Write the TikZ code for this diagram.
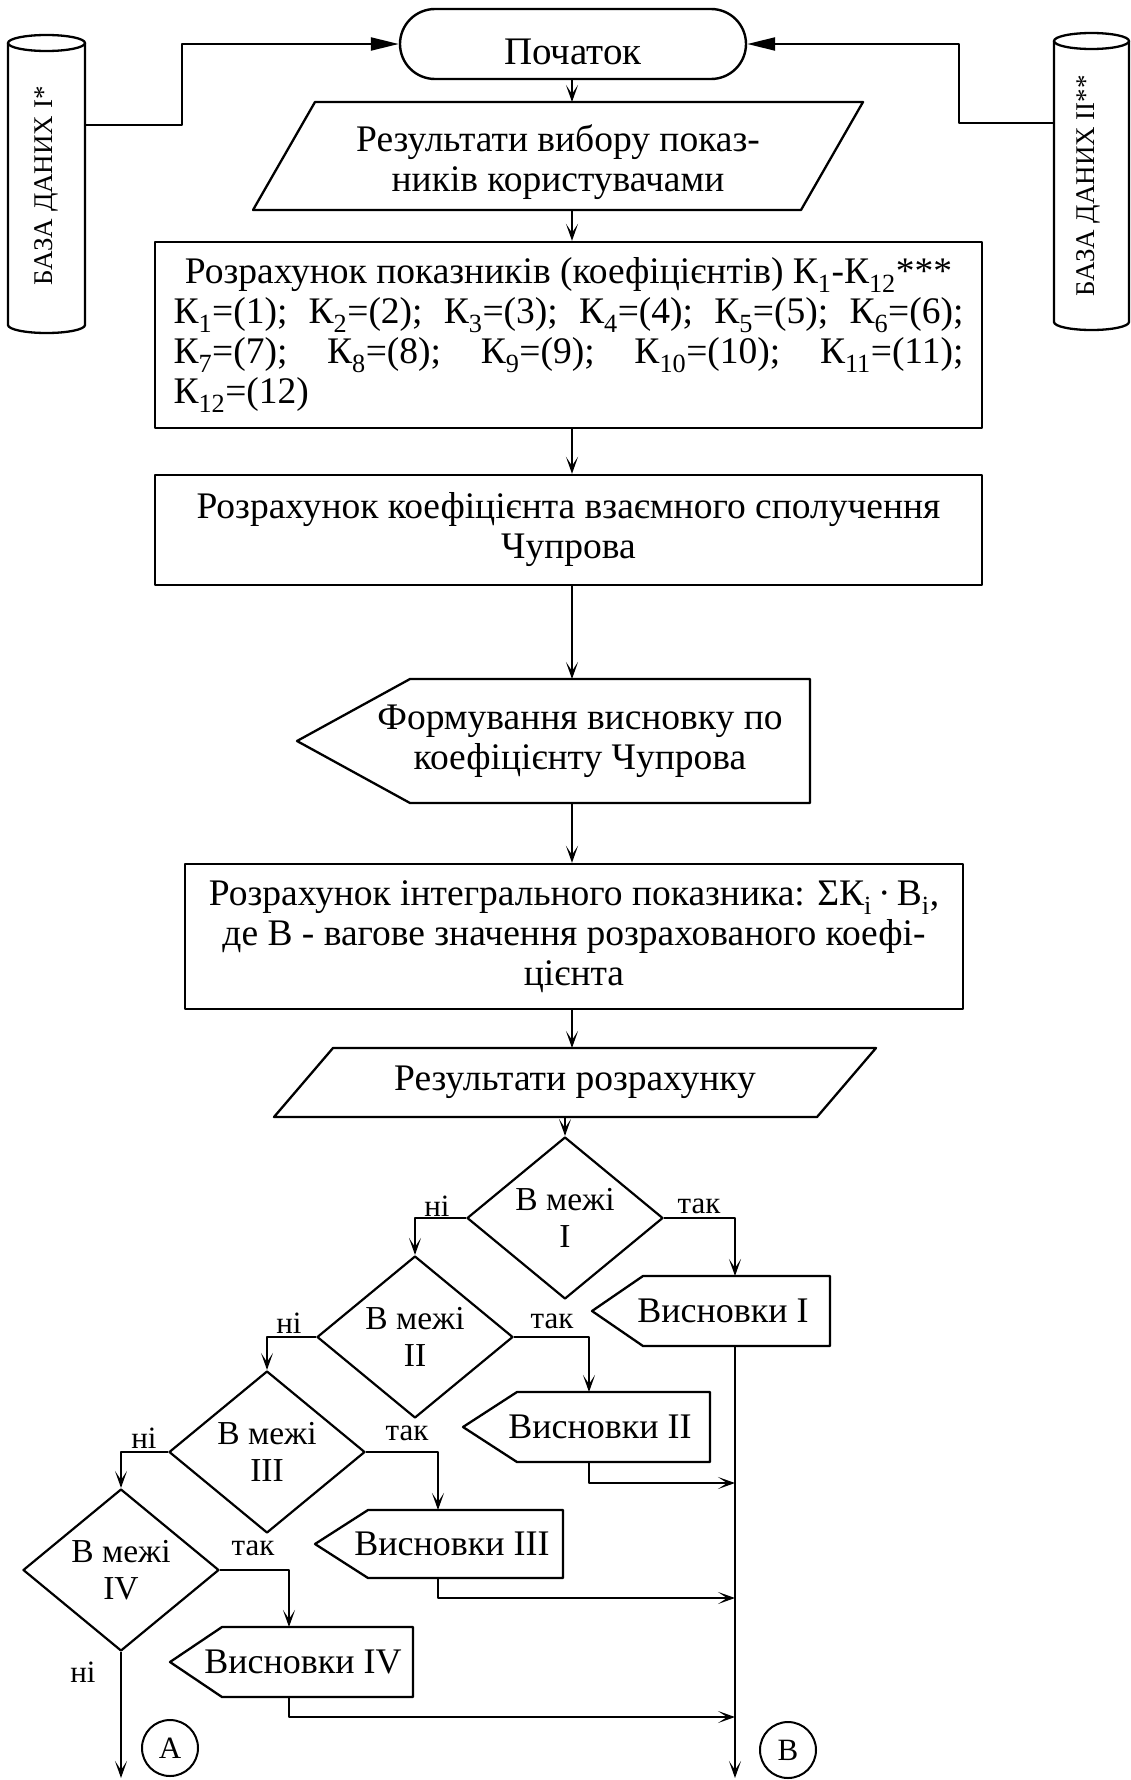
\documentclass[tikz,border=0pt]{standalone}
\usepackage{fontspec}
\setmainfont{Liberation Serif}
\usetikzlibrary{arrows.meta,calc,shapes.geometric}
\newcommand\fmain{\fontsize{37.5}{40}\selectfont}
\newcommand\fstart{\fontsize{39}{42}\selectfont}
\newcommand\fvis{\fontsize{36}{40}\selectfont}
\newcommand\fdec{\fontsize{33.5}{37}\selectfont}
\newcommand\flab{\fontsize{31}{34}\selectfont}
\newcommand\fdb{\fontsize{27}{32}\selectfont}
\newcommand\sbs[1]{\textsubscript{#1}}
\begin{document}
\begin{tikzpicture}[x=1pt,y=-1pt,line join=round,
  ln/.style={line width=2.3pt},
  plain/.style={inner sep=0pt,outer sep=0pt},
  procbox/.style={draw,line width=2.4pt,inner sep=0pt,align=center,font=\fmain},
  shapebox/.style={inner sep=0pt,outer sep=0pt,align=center,font=\fmain},
  visbox/.style={inner sep=0pt,outer sep=0pt,align=center,font=\fvis},
  dec/.style={draw,diamond,line width=2.2pt,inner sep=0pt,minimum width=196pt,minimum height=162pt,aspect=1.21,align=center,font=\fdec},
  arr/.style={line width=2pt,-{Stealth[length=17pt,width=12pt,inset=9pt]}},
  tarr/.style={line width=2.2pt,-{Triangle[length=28pt,width=13pt]}},
  lab/.style={inner sep=0pt,font=\flab},
  conn/.style={draw,circle,line width=2pt,minimum size=56pt,inner sep=0pt,font=\flab}
]
\fill[white] (0,0) rectangle (1131,1780);
\useasboundingbox (0,0) rectangle (1131,1780);

% databases
\node[plain,minimum width=77pt,minimum height=298pt] (db1) at (46.5,184) {};
\node[plain,rotate=90,font=\fdb] (db1t) at (46,186) {БАЗА ДАНИХ I*};
\draw[ln] ($(db1.north)+(0,8)$) ellipse [x radius=38.5pt,y radius=8pt];
\draw[ln] ($(db1.north west)+(0,8)$) -- ($(db1.south west)+(0,-8)$) arc[start angle=180,end angle=360,x radius=38.5pt,y radius=8pt] -- ($(db1.north east)+(0,8)$);

\node[plain,minimum width=75pt,minimum height=297pt] (db2) at (1091.5,181.5) {};
\node[plain,rotate=90,font=\fdb] (db2t) at (1088,186) {БАЗА ДАНИХ II**};
\draw[ln] ($(db2.north)+(0,8)$) ellipse [x radius=37.5pt,y radius=8pt];
\draw[ln] ($(db2.north west)+(0,8)$) -- ($(db2.south west)+(0,-8)$) arc[start angle=180,end angle=360,x radius=37.5pt,y radius=8pt] -- ($(db2.north east)+(0,8)$);

% start
\node[procbox,font=\fstart,rounded corners=35pt,minimum width=346pt,minimum height=70pt,text height=40pt,text depth=0pt] (start) at (573,44) {Початок};
\draw[tarr] ($(db1.north east)+(0,90)$) -- ++(97,0) |- (start.west);
\draw[tarr] ($(db2.north west)+(0,90)$) -- ++(-95,0) |- (start.east);

\coordinate (ax) at (572,0);

% selection parallelogram
\node[shapebox,minimum width=610pt,minimum height=108pt] (sel) at (558,156) {\rule{0pt}{40pt}Результати вибору показ-\\ників користувачами};
\draw[ln] ($(sel.north west)+(62,0)$) -- (sel.north east) -- ($(sel.south east)+(-62,0)$) -- (sel.south west) -- cycle;

% calculation of indicators
\node[procbox,minimum width=827pt,minimum height=186pt] (calc1) at (568.5,335) {%
\makebox[790pt][c]{Розрахунок показників (коефіцієнтів) К\sbs{1}-К\sbs{12}***}\\
\makebox[790pt][s]{К\sbs{1}=(1); К\sbs{2}=(2); К\sbs{3}=(3); К\sbs{4}=(4); К\sbs{5}=(5); К\sbs{6}=(6);}\\
\makebox[790pt][s]{К\sbs{7}=(7); К\sbs{8}=(8); К\sbs{9}=(9); К\sbs{10}=(10); К\sbs{11}=(11);}\\
\makebox[790pt][l]{К\sbs{12}=(12)}};

% Chuprov
\node[procbox,minimum width=827pt,minimum height=110pt] (chup) at (568.5,530) {Розрахунок коефіцієнта взаємного сполучення\\Чупрова};

% conclusion display
\node[shapebox,minimum width=513pt,minimum height=124pt] (form) at (553.5,741) {\hspace*{53pt}Формування висновку по\\\hspace*{53pt}коефіцієнту Чупрова};
\draw[ln] ($(form.north west)+(113,0)$) -- (form.north east) -- (form.south east) -- ($(form.south west)+(113,0)$) -- (form.west) -- cycle;

% integral
\node[procbox,minimum width=778pt,minimum height=145pt] (integ) at (574,936.5) {Розрахунок інтегрального показника: ΣК\sbs{i}\,·\,В\sbs{i},\\де В - вагове значення розрахованого коефі-\\цієнта};

% results
\node[shapebox,minimum width=602pt,minimum height=69pt] (res) at (575,1082.5) {Результати розрахунку};
\draw[ln] ($(res.north west)+(59,0)$) -- (res.north east) -- ($(res.south east)+(-59,0)$) -- (res.south west) -- cycle;

% main axis arrows
\draw[arr] (ax |- start.south) -- (ax |- sel.north);
\draw[arr] (ax |- sel.south) -- (ax |- calc1.north);
\draw[arr] (ax |- calc1.south) -- (ax |- chup.north);
\draw[arr] (ax |- chup.south) -- (ax |- form.north);
\draw[arr] (ax |- form.south) -- (ax |- integ.north);
\draw[arr] (ax |- integ.south) -- (ax |- res.north);

% decisions
\node[dec] (d1) at (565,1218) {В межі\\I};
\node[dec] (d2) at (415,1337) {В межі\\II};
\node[dec] (d3) at (267,1452) {В межі\\III};
\node[dec] (d4) at (121,1570) {В межі\\IV};
\draw[arr] (d1.north |- res.south) -- (d1.north);

% conclusions
\node[visbox,minimum width=238pt,minimum height=70pt] (v1) at (711,1311) {\hspace*{24pt}Висновки I};
\draw[ln] ($(v1.north west)+(51,0)$) -- (v1.north east) -- (v1.south east) -- ($(v1.south west)+(51,0)$) -- (v1.west) -- cycle;
\node[visbox,minimum width=247pt,minimum height=70pt] (v2) at (586.5,1427) {\hspace*{27pt}Висновки II};
\draw[ln] ($(v2.north west)+(54,0)$) -- (v2.north east) -- (v2.south east) -- ($(v2.south west)+(54,0)$) -- (v2.west) -- cycle;
\node[visbox,minimum width=248pt,minimum height=68pt] (v3) at (439,1544) {\hspace*{26pt}Висновки III};
\draw[ln] ($(v3.north west)+(53,0)$) -- (v3.north east) -- (v3.south east) -- ($(v3.south west)+(53,0)$) -- (v3.west) -- cycle;
\node[visbox,minimum width=243pt,minimum height=70pt] (v4) at (291.5,1662) {\hspace*{23pt}Висновки IV};
\draw[ln] ($(v4.north west)+(52,0)$) -- (v4.north east) -- (v4.south east) -- ($(v4.south west)+(52,0)$) -- (v4.west) -- cycle;

\coordinate (x1) at (735,0);
\coordinate (x2) at (589,0);
\coordinate (x3) at (438,0);
\coordinate (x4) at (289,0);
\coordinate (j2) at (735,1483);
\coordinate (j3) at (735,1598);
\coordinate (j4) at (735,1717);
\coordinate (endB) at (735,1778);

\draw[arr] (d1.east) -| (x1 |- v1.north);
\draw[arr] (d2.east) -| (x2 |- v2.north);
\draw[arr] (d3.east) -| (x3 |- v3.north);
\draw[arr] (d4.east) -| (x4 |- v4.north);
\draw[arr] (d1.west) -| (d2.north);
\draw[arr] (d2.west) -| (d3.north);
\draw[arr] (d3.west) -| (d4.north);

\draw[arr] (x1 |- v1.south) -- (endB);
\draw[arr] (x2 |- v2.south) |- (j2);
\draw[arr] (x3 |- v3.south) |- (j3);
\draw[arr] (x4 |- v4.south) |- (j4);
\draw[arr] (d4.south) -- (d4.south |- endB);

% labels
\node[lab] (n1) at (437,1206) {ні};
\node[lab] (t1) at (699,1206) {так};
\node[lab] (n2) at (289,1323) {ні};
\node[lab] (t2) at (552,1321) {так};
\node[lab] (n3) at (144,1438) {ні};
\node[lab] (t3) at (407,1433) {так};
\node[lab] (t4) at (253,1548) {так};
\node[lab] (n4) at (83,1672) {ні};

\node[conn] (cA) at (170,1748) {A};
\node[conn] (cB) at (788,1750) {B};
\end{tikzpicture}
\end{document}
